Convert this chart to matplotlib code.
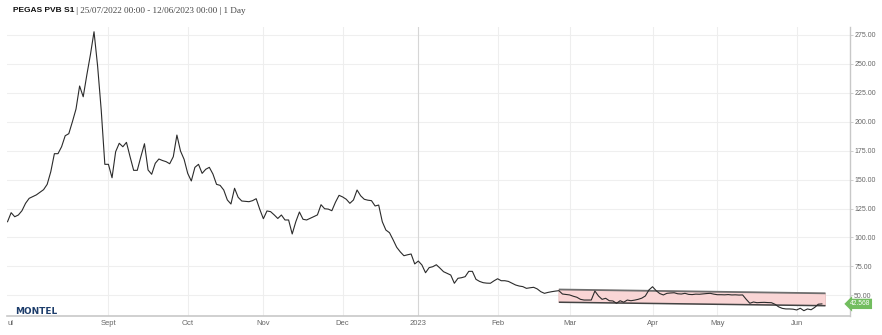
import numpy as np
import pandas as pd
import matplotlib
matplotlib.use("Agg")
import matplotlib.pyplot as plt
from matplotlib.patches import Polygon

# ---------------- data ----------------
start_date = "2022-07-25"
end_date = "2023-06-12"
holidays = ["2022-12-26", "2023-04-07", "2023-04-10", "2023-05-01"]

prices = [
    113.6, 121.4, 117.9, 119.4, 123.1, 129.5, 133.8, 135.3, 136.8, 139.0,
    141.3, 145.9, 156.8, 172.4, 172.4, 178.4, 187.9, 189.7, 200.0, 211.0,
    230.9, 221.6, 240.4, 258.0, 277.8, 248.0, 210.0, 163.2, 163.2, 151.6,
    174.1, 181.4, 178.4, 182.2, 169.8, 158.0, 158.0, 169.8, 181.0, 158.3,
    154.6, 164.1, 167.8, 166.5, 165.5, 163.7, 169.8, 188.5, 174.7, 167.5,
    155.4, 148.8, 160.6, 163.2, 155.4, 158.9, 160.6, 154.8, 145.9, 145.0,
    141.0, 132.4, 128.9, 142.5, 134.7, 131.5, 131.2, 130.9, 131.8, 133.5,
    124.3, 116.2, 122.9, 122.3, 119.5, 116.4, 119.4, 115.1, 115.1, 103.0,
    113.6, 122.0, 115.7, 115.1, 116.5, 118.0, 119.5, 128.3, 124.8, 124.5,
    123.1, 130.4, 136.4, 135.0, 133.0, 129.5, 132.4, 141.0, 136.0, 133.0,
    132.2, 131.8, 127.2, 128.0, 113.6, 106.4, 104.1, 98.0, 91.5, 87.5,
    84.2, 85.0, 85.7, 77.1, 79.6, 76.2, 69.5, 73.9, 74.7, 76.4,
    73.5, 70.4, 69.0, 67.5, 60.4, 64.7, 65.2, 66.1, 70.7, 70.7,
    63.8, 62.0, 60.9, 60.5, 60.4, 62.5, 64.3, 62.6, 62.6, 62.0,
    60.5, 58.9, 58.0, 57.5, 56.0, 56.5, 56.9, 55.5, 53.1, 51.7,
    52.5, 53.1, 53.6, 54.0, 51.1, 50.7, 50.3, 49.2, 48.3, 46.5,
    45.9, 45.9, 45.9, 53.7, 49.4, 46.5, 47.4, 45.3, 45.1, 43.1,
    45.3, 44.0, 45.9, 45.3, 45.8, 46.5, 47.5, 49.4, 54.6, 57.4,
    54.0, 51.5, 50.3, 51.7, 52.0, 52.2, 51.3, 51.1, 51.7, 50.8,
    50.6, 51.0, 50.9, 51.2, 51.5, 51.7, 51.0, 50.5, 50.5, 50.4,
    50.6, 50.3, 50.4, 50.2, 50.3, 46.5, 43.1, 44.2, 43.6, 43.8,
    43.9, 43.7, 43.6, 42.2, 40.0, 38.7, 38.2, 38.2, 38.0, 37.3,
    38.8, 36.7, 38.2, 37.5, 39.5, 42.3, 42.568,
]
last_value = 42.568

# trend channel drawn on the chart
channel_dates = ["2023-02-24", "2023-06-13"]
channel_upper = [55.0, 51.7]
channel_lower = [44.0, 41.0]

month_starts = ["2022-09-01", "2022-10-01", "2022-11-01", "2022-12-01", "2023-01-01",
                "2023-02-01", "2023-03-01", "2023-04-01", "2023-05-01", "2023-06-01"]
month_labels = ["Sept", "Oct", "Nov", "Dec", "2023", "Feb", "Mar", "Apr", "May", "Jun"]

y_ticks = [50, 75, 100, 125, 150, 175, 200, 225, 250, 275]

title_bold = "PEGAS PVB S1"
title_rest = " | 25/07/2022 00:00 - 12/06/2023 00:00 | 1 Day"

# ---------------- positions (ordinal trading-day axis) ----------------
dates = pd.bdate_range(start_date, end_date, freq="C", holidays=holidays)
n = min(len(dates), len(prices))
dates = dates[:n]
vals = np.array(prices[:n])


def pos(d):
    return np.busday_count(np.datetime64(start_date),
                           np.array(d, dtype="datetime64[D]"),
                           holidays=np.array(holidays, dtype="datetime64[D]"))


x = pos(dates.values.astype("datetime64[D]"))
ch_x = pos(channel_dates)
tick_x = pos(month_starts)

# ---------------- figure ----------------
W, H = 882, 335
fig = plt.figure(figsize=(W / 100, H / 100), dpi=100)
ax = fig.add_axes([7 / W, (H - 316) / H, (850 - 7) / W, (316 - 27) / H])

ax.set_xlim(-0.15, 233.8)
ax.set_ylim(32.1, 281.9)

# grid
for yv in y_ticks:
    ax.axhline(yv, color="#efefef", lw=0.8, zorder=0)
for tx, lab in zip(tick_x, month_labels):
    ax.axvline(tx, color="#d6d6d6" if lab == "2023" else "#eeeeee", lw=0.8, zorder=0)

# channel
poly = Polygon([[ch_x[0], channel_upper[0]], [ch_x[1], channel_upper[1]],
                [ch_x[1], channel_lower[1]], [ch_x[0], channel_lower[0]]],
               closed=True, facecolor="#f9d5d5", edgecolor="#e9c2c2", lw=0.6, zorder=1)
ax.add_patch(poly)
ax.plot(ch_x, channel_upper, color="#6f6f6f", lw=1.3, zorder=2, solid_capstyle="butt")
ax.plot(ch_x, channel_lower, color="#444444", lw=1.1, zorder=2, solid_capstyle="butt")

# price line
ax.plot(x, vals, color="#2b2b2b", lw=0.8, zorder=3)

# axes styling
for s in ["top", "left"]:
    ax.spines[s].set_visible(False)
ax.spines["bottom"].set_color("#c8c8c8")
ax.spines["bottom"].set_linewidth(1.2)
ax.spines["right"].set_color("#c8c8c8")
ax.spines["right"].set_linewidth(1.0)

ax.yaxis.tick_right()
ax.set_yticks(y_ticks)
ax.set_yticklabels([f"{v:.2f}" for v in y_ticks])
ax.tick_params(axis="y", length=2, width=0.6, color="#c8c8c8", pad=1,
               labelsize=5, labelcolor="#666666")
ax.set_xticks(tick_x)
ax.set_xticklabels(month_labels)
ax.tick_params(axis="x", length=0, pad=3, labelsize=5.5, labelcolor="#666666")
for lab in ax.get_xticklabels() + ax.get_yticklabels():
    lab.set_fontfamily("Liberation Sans")

# cut-off first month label
fig.text(7 / W, (H - 323.5) / H, "ul", fontsize=5.5, color="#666666",
         family="Liberation Sans", ha="left", va="center")

# last value flag
ax.text(1.0, last_value, f"{last_value:.3f}",
        transform=ax.get_yaxis_transform(), ha="left", va="center",
        fontsize=4.8, color="white", family="Liberation Sans", clip_on=False,
        bbox=dict(boxstyle="larrow,pad=0.25", fc="#72bd5f", ec="none"), zorder=5)

# title
t1 = fig.text(13 / W, (H - 11) / H, title_bold, fontsize=6, fontweight="bold",
              family="Liberation Sans", color="#111111", ha="left", va="center")
fig.canvas.draw()
bb = t1.get_window_extent()
fig.text(bb.x1 / W, (H - 11) / H, title_rest, fontsize=6.6, family="Liberation Serif",
         color="#444444", ha="left", va="center")

# logo
fig.text(15 / W, (H - 311.5) / H, "MONTEL", fontsize=6.4, fontweight="bold",
         family="DejaVu Sans", color="#1d3d6b", ha="left", va="center")

fig.savefig("out.png", dpi=100)
